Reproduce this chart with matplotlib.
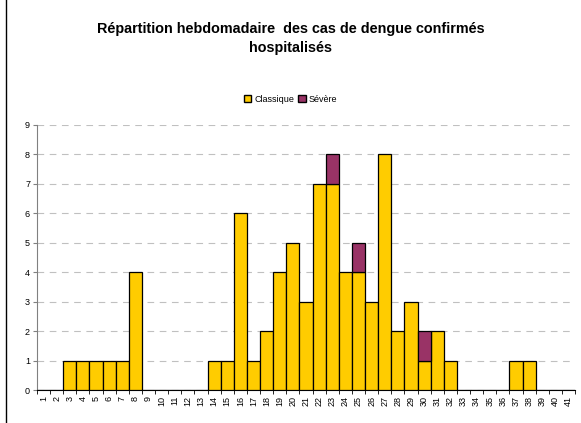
import matplotlib
matplotlib.use("Agg")
import matplotlib.pyplot as plt
import numpy as np
from matplotlib.lines import Line2D
from matplotlib.patches import Patch

plt.rcParams["font.family"] = ["Liberation Sans", "DejaVu Sans"]

# ─── Data ───────────────────────────────────────────────────────────────────
weeks = list(range(1, 42))
classique = [0, 0, 1, 1, 1, 1, 1, 4, 0, 0,
             0, 0, 0, 1, 1, 6, 1, 2, 4, 5,
             3, 7, 7, 4, 4, 3, 8, 2, 3, 1,
             2, 1, 0, 0, 0, 0, 1, 1, 0, 0,
             0]
severe = [0] * 41
severe[23 - 1] = 1
severe[25 - 1] = 1
severe[30 - 1] = 1

COL_CLASSIQUE = "#FFCC00"
COL_SEVERE = "#993366"

W, H = 581, 423
fig = plt.figure(figsize=(W / 100, H / 100), dpi=100)
ax = fig.add_axes([37 / W, 1 - 390 / H, (575 - 37) / W, (390 - 125) / H])

x = np.array(weeks)
cl = np.array(classique)
sv = np.array(severe)
ax.bar(x, cl, width=1.0, color=COL_CLASSIQUE, edgecolor="black", linewidth=0.9, zorder=3)
mask = sv > 0
ax.bar(x[mask], sv[mask], bottom=cl[mask], width=1.0, color=COL_SEVERE,
       edgecolor="black", linewidth=0.9, zorder=3)

ax.set_xlim(0.5, 41.5)
ax.set_ylim(0, 9)
ax.set_yticks(range(0, 10))
ax.tick_params(axis="y", labelsize=6.5, length=3, color="#808080", pad=2)
ax.yaxis.grid(True, color="#c0c0c0", linestyle=(0, (6, 5)), linewidth=0.8, zorder=0)

ax.set_xticks(x)
ax.set_xticklabels([str(w) for w in weeks], rotation=90, fontsize=6.5)
ax.set_xticks(np.arange(0.5, 42, 1), minor=True)
ax.tick_params(axis="x", which="major", length=0, pad=4)
ax.tick_params(axis="x", which="minor", length=3, color="black")

for side in ("top", "right"):
    ax.spines[side].set_visible(False)
ax.spines["left"].set_color("#808080")
ax.spines["bottom"].set_color("black")

fig.text(0.5, 1 - 38.5 / H, "Répartition hebdomadaire  des cas de dengue confirmés\nhospitalisés",
         ha="center", va="center", fontsize=10.4, fontweight="bold", linespacing=1.4)

handles = [Patch(facecolor=COL_CLASSIQUE, edgecolor="black", label="Classique"),
           Patch(facecolor=COL_SEVERE, edgecolor="black", label="Sévère")]
fig.legend(handles=handles, loc="center", bbox_to_anchor=(0.5, 1 - 99 / H), ncol=2,
           frameon=False, fontsize=6.5, handlelength=0.8, handleheight=0.8,
           handletextpad=0.3, columnspacing=0.5)

fig.add_artist(Line2D([5.5 / W, 5.5 / W], [0, 1], transform=fig.transFigure,
                      color="black", linewidth=1.0))

fig.savefig("out.png", dpi=100)
